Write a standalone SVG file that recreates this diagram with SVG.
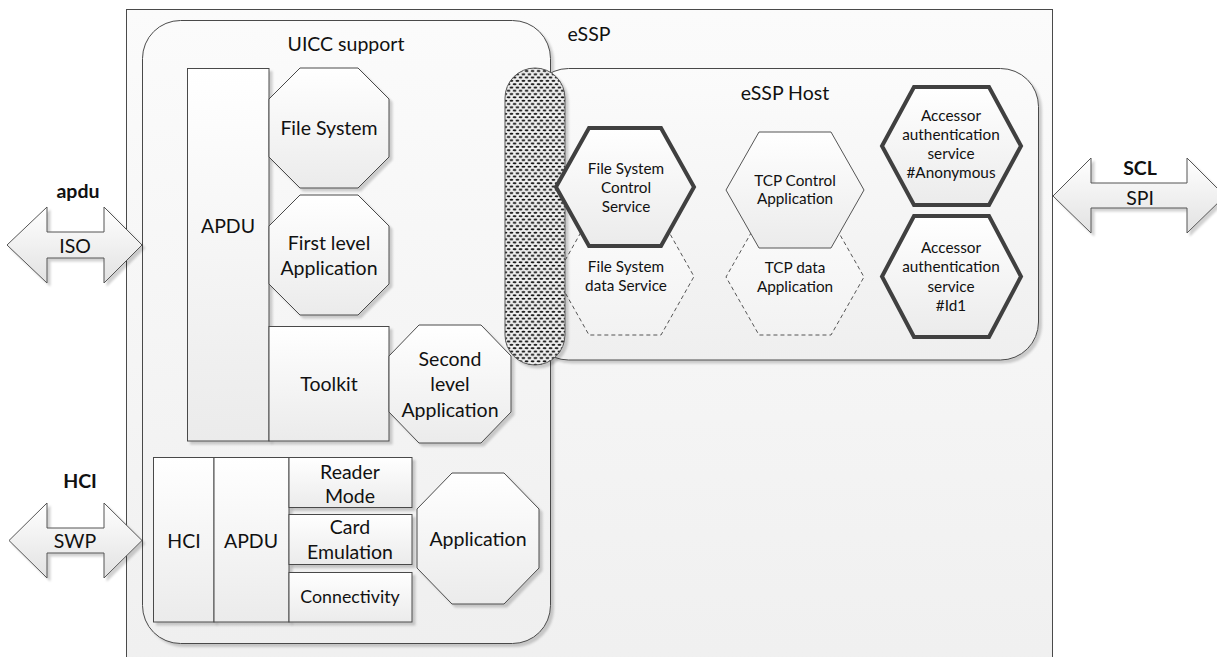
<svg xmlns="http://www.w3.org/2000/svg" width="1217" height="657" viewBox="0 0 1217 657">
<style>
text{font-family:Lato,"Liberation Sans",sans-serif;fill:#111;text-anchor:middle;dominant-baseline:central}
.t20{font-size:19.5px}
.t18{font-size:17.8px}
.t15{font-size:15.3px}
.b{font-weight:bold;font-size:19.5px}
.sh{fill:url(#g);stroke:#4a4a4a;stroke-width:1;filter:url(#ds)}
.thick{fill:url(#g);stroke:#404040;stroke-width:4;stroke-linejoin:miter}
.thin{fill:url(#g);stroke:#555;stroke-width:1}
.dash{fill:url(#g2);stroke:#555;stroke-width:1;stroke-dasharray:4 3}
.arrow{fill:url(#ga);stroke:#555;stroke-width:1;filter:url(#ds)}
</style>
<defs>
<linearGradient id="g" x1="0" y1="0" x2="0" y2="1"><stop offset="0" stop-color="#ffffff"/><stop offset="1" stop-color="#ebebeb"/></linearGradient>
<linearGradient id="g2" x1="0" y1="0" x2="0" y2="1"><stop offset="0" stop-color="#fbfbfb"/><stop offset="1" stop-color="#f2f2f2"/></linearGradient>
<linearGradient id="gbg" x1="0" y1="0" x2="0" y2="1"><stop offset="0" stop-color="#fbfbfb"/><stop offset="1" stop-color="#efefef"/></linearGradient>
<linearGradient id="ga" x1="0" y1="0" x2="0" y2="1"><stop offset="0" stop-color="#ffffff"/><stop offset="1" stop-color="#e2e2e2"/></linearGradient>
<filter id="ds" x="-10%" y="-10%" width="130%" height="130%"><feDropShadow dx="3" dy="3" stdDeviation="1.2" flood-color="#000" flood-opacity="0.18"/></filter>
<pattern id="hatch" width="6" height="6.6" patternUnits="userSpaceOnUse">
<rect width="6" height="6.6" fill="#f0f0f0"/>
<ellipse cx="1.5" cy="1.6" rx="1.9" ry="1" fill="#111"/>
<ellipse cx="4.5" cy="4.9" rx="1.9" ry="1" fill="#111"/>
<ellipse cx="7.5" cy="1.6" rx="1.9" ry="1" fill="#111"/>
<ellipse cx="-1.5" cy="4.9" rx="1.9" ry="1" fill="#111"/>
</pattern>
</defs>

<g id="essp">
<rect x="126.5" y="9.5" width="926" height="700" fill="url(#gbg)" stroke="#4a4a4a"/>
<text class="t20" x="589" y="33">eSSP</text>
</g>

<g id="uicc-support">
<rect x="142.5" y="20.5" width="408" height="623" rx="38" fill="url(#gbg)" stroke="#4a4a4a" filter="url(#ds)"/>
<text class="t20" x="346" y="43">UICC support</text>
</g>

<g id="apdu-top"><rect class="sh" x="187.5" y="68.5" width="81.5" height="372.5"/><text class="t20" x="228" y="225">APDU</text></g>
<g id="file-system"><polygon class="sh" points="300,68 358,68 389,99 389,157 358,188 300,188 269,157 269,99"/><text class="t20" x="329" y="127">File System</text></g>
<g id="first-level"><polygon class="sh" points="300,195 358,195 389,226 389,284 358,315 300,315 269,284 269,226"/><text class="t20" x="329" y="242">First level</text><text class="t20" x="329" y="267">Application</text></g>
<g id="toolkit"><rect class="sh" x="269" y="326.5" width="120" height="114.5"/><text class="t20" x="329" y="383">Toolkit</text></g>
<g id="second-level"><polygon class="sh" points="419,325 481,325 511,356 511,412 481,443 419,443 389,412 389,356"/><text class="t20" x="450" y="358">Second</text><text class="t20" x="450" y="383">level</text><text class="t20" x="450" y="409">Application</text></g>

<g id="hci-block"><rect class="sh" x="153.5" y="457.5" width="60.5" height="164.5"/><text class="t20" x="184" y="540">HCI</text></g>
<g id="apdu-bottom"><rect class="sh" x="214" y="457.5" width="75" height="164.5"/><text class="t20" x="251" y="540">APDU</text></g>
<g id="reader-mode"><rect class="sh" x="289" y="457.5" width="123" height="50"/><text class="t20" x="350" y="471">Reader</text><text class="t20" x="350" y="495">Mode</text></g>
<g id="card-emulation"><rect class="sh" x="289" y="514.5" width="123" height="50"/><text class="t20" x="350" y="526">Card</text><text class="t20" x="350" y="551">Emulation</text></g>
<g id="connectivity"><rect class="sh" x="289" y="572.5" width="123" height="49.5"/><text class="t18" x="350" y="596">Connectivity</text></g>
<g id="application"><polygon class="sh" points="452,473 504,473 539,509 539,568 504,604 452,604 417,568 417,509"/><text class="t20" x="478" y="538">Application</text></g>

<g id="essp-host">
<rect x="530.5" y="68.5" width="508" height="291.5" rx="38" fill="url(#gbg)" stroke="#4a4a4a" filter="url(#ds)"/>
<text class="t20" x="785" y="92">eSSP Host</text>
</g>

<g id="fs-data"><polygon class="dash" points="589,218 661,218 694,276.5 661,335 589,335 556,276.5"/><text class="t15" x="626" y="266">File System</text><text class="t15" x="626" y="285">data Service</text></g>

<g id="bus"><rect x="505" y="68" width="60" height="297" rx="30" fill="url(#hatch)" stroke="#555" filter="url(#ds)"/></g>

<g id="fs-control"><polygon class="thick" points="589,128 661,128 694,187 661,246 589,246 556,187"/><text class="t15" x="626" y="168">File System</text><text class="t15" x="626" y="187">Control</text><text class="t15" x="626" y="206">Service</text></g>

<g id="tcp-data"><polygon class="dash" points="759,219 831,219 864,277 831,335 759,335 726,277"/><text class="t15" x="795" y="267">TCP data</text><text class="t15" x="795" y="286">Application</text></g>
<g id="tcp-control"><polygon class="thin" points="759,132 831,132 864,190 831,248 759,248 726,190"/><text class="t15" x="795" y="180">TCP Control</text><text class="t15" x="795" y="198">Application</text></g>

<g id="auth-anonymous"><polygon class="thick" points="914,87 989,87 1021,146 989,205 914,205 882,146"/><text class="t15" x="951" y="115">Accessor</text><text class="t15" x="951" y="134">authentication</text><text class="t15" x="951" y="153">service</text><text class="t15" x="951" y="172">#Anonymous</text></g>
<g id="auth-id1"><polygon class="thick" points="914,216 989,216 1021,276.5 989,337 914,337 882,276.5"/><text class="t15" x="951" y="247">Accessor</text><text class="t15" x="951" y="266">authentication</text><text class="t15" x="951" y="286">service</text><text class="t15" x="951" y="305">#Id1</text></g>

<g id="connectors">
<path class="arrow" d="M7,245 L47,207 L47,232 L104,232 L104,207 L142,245 L104,283 L104,258 L47,258 L47,283 Z"/>
<path class="arrow" d="M9,540.5 L47,503 L47,528 L104,528 L104,503 L142,540.5 L104,578 L104,553 L47,553 L47,578 Z"/>
<path class="arrow" d="M1053,196 L1091,158 L1091,183 L1187,183 L1187,158 L1225,196 L1187,233 L1187,208 L1091,208 L1091,233 Z"/>
<text class="b" x="78" y="190">apdu</text>
<text class="t20" x="75" y="245">ISO</text>
<text class="b" x="80" y="480">HCI</text>
<text class="t20" x="75" y="540">SWP</text>
<text class="b" x="1140" y="167">SCL</text>
<text class="t20" x="1140" y="197">SPI</text>
</g>
</svg>
